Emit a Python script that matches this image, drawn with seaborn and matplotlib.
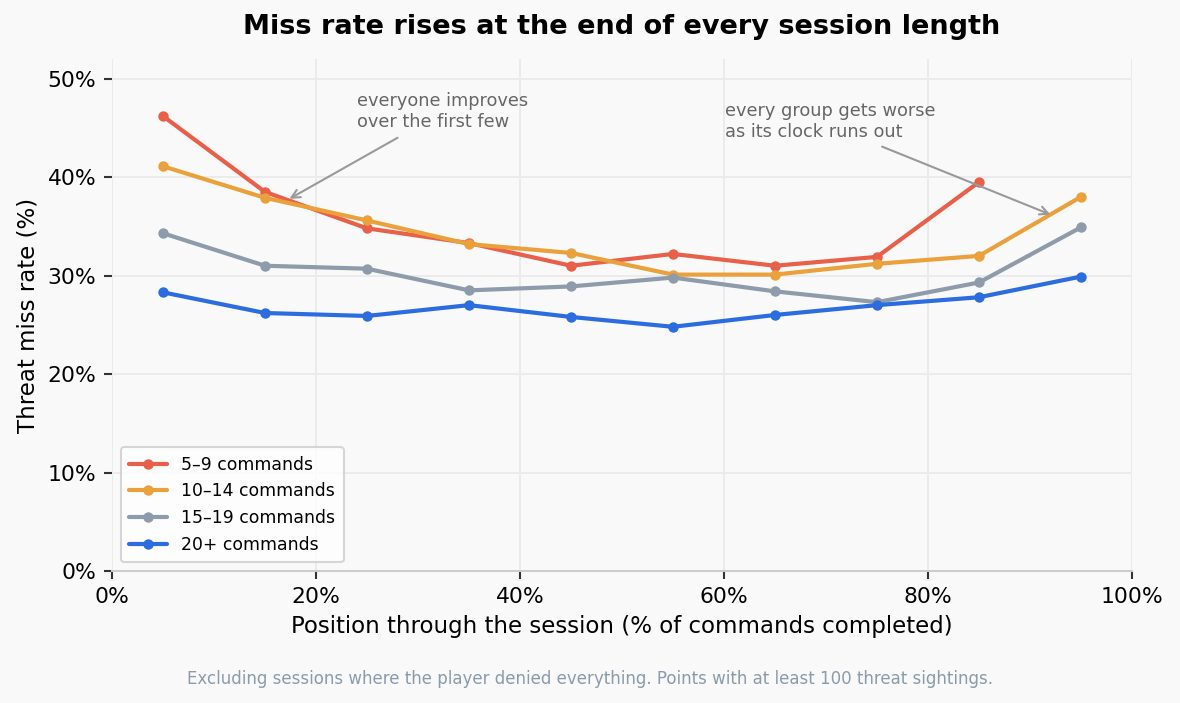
import numpy as np
import pandas as pd
import seaborn as sns
import matplotlib.pyplot as plt
from matplotlib.ticker import FuncFormatter

# position bins (% of commands completed) and miss rates (%) per session length
position = [5, 15, 25, 35, 45, 55, 65, 75, 85, 95]
groups = ["5–9 commands", "10–14 commands", "15–19 commands", "20+ commands"]
miss_5_9 = [46.2, 38.5, 34.8, 33.3, 31.0, 32.2, 31.0, 31.9, 39.5, np.nan]
miss_10_14 = [41.1, 37.9, 35.6, 33.2, 32.3, 30.1, 30.1, 31.2, 32.0, 38.0]
miss_15_19 = [34.3, 31.0, 30.7, 28.5, 28.9, 29.8, 28.4, 27.3, 29.3, 34.9]
miss_20_plus = [28.3, 26.2, 25.9, 27.0, 25.8, 24.8, 26.0, 27.0, 27.8, 29.9]
colors = ["#e8604a", "#eba13b", "#8d9baa", "#2b6cdf"]

rows = []
for g, vals in zip(groups, [miss_5_9, miss_10_14, miss_15_19, miss_20_plus]):
    for p, v in zip(position, vals):
        rows.append({"position": p, "miss": v, "group": g})
df = pd.DataFrame(rows).dropna()

sns.set_style("whitegrid")
plt.rcParams["font.family"] = ["DejaVu Sans"]
plt.rcParams["text.color"] = "black"
plt.rcParams["axes.labelcolor"] = "black"
plt.rcParams["xtick.color"] = "black"
plt.rcParams["ytick.color"] = "black"

bg = "#f9f9f9"
fig = plt.figure(figsize=(1180 / 150, 703 / 150), dpi=150, facecolor=bg)
ax = fig.add_axes([0.0949, 0.1878, 0.8644, 0.7283])
ax.set_facecolor(bg)

sns.lineplot(
    data=df,
    x="position",
    y="miss",
    hue="group",
    hue_order=groups,
    palette=colors,
    marker="o",
    markersize=5,
    markeredgewidth=0,
    linewidth=2,
    ax=ax,
)

ax.set_xlim(0, 100)
ax.set_ylim(0, 52)
ax.set_xticks([0, 20, 40, 60, 80, 100])
ax.set_yticks([0, 10, 20, 30, 40, 50])
pct = FuncFormatter(lambda v, _: f"{v:.0f}%")
ax.xaxis.set_major_formatter(pct)
ax.yaxis.set_major_formatter(pct)
ax.grid(True, color="#ebebeb", linewidth=0.9)
ax.tick_params(axis="both", which="major", length=4, width=1, color="#333333",
               labelsize=10.5, labelcolor="black", bottom=True, left=True)

for s in ["top", "right", "left"]:
    ax.spines[s].set_visible(False)
ax.spines["bottom"].set_color("#cccccc")
ax.spines["bottom"].set_linewidth(1)

ax.set_xlabel("Position through the session (% of commands completed)", fontsize=11, color="black")
ax.set_ylabel("Threat miss rate (%)", fontsize=11, color="black")
ax.set_title("Miss rate rises at the end of every session length",
             fontsize=13, fontweight="bold", pad=12, color="black")

leg = ax.legend(loc="lower left", fontsize=8.3, frameon=True, title=None,
                borderpad=0.5, handlelength=2.2)
leg.get_frame().set_facecolor("white")
leg.get_frame().set_edgecolor("#cccccc")
for t in leg.get_texts():
    t.set_color("black")

# annotations: text and arrows
ax.text(24.0, 48.6, "everyone improves\nover the first few", fontsize=8.5,
        color="#666666", ha="left", va="top")
ax.annotate("", xy=(17.4, 37.8), xytext=(28.0, 44.0),
            arrowprops=dict(arrowstyle="->", color="#999999", lw=1, shrinkA=0, shrinkB=0))
ax.text(60.1, 47.6, "every group gets worse\nas its clock runs out", fontsize=8.5,
        color="#666666", ha="left", va="top")
ax.annotate("", xy=(92.0, 36.2), xytext=(75.5, 43.1),
            arrowprops=dict(arrowstyle="->", color="#999999", lw=1, shrinkA=0, shrinkB=0))

fig.text(0.5, 0.034, "Excluding sessions where the player denied everything. "
         "Points with at least 100 threat sightings.",
         ha="center", va="center", fontsize=8, color="#8a9bad")

fig.savefig("out.png", dpi=150, facecolor=bg)
